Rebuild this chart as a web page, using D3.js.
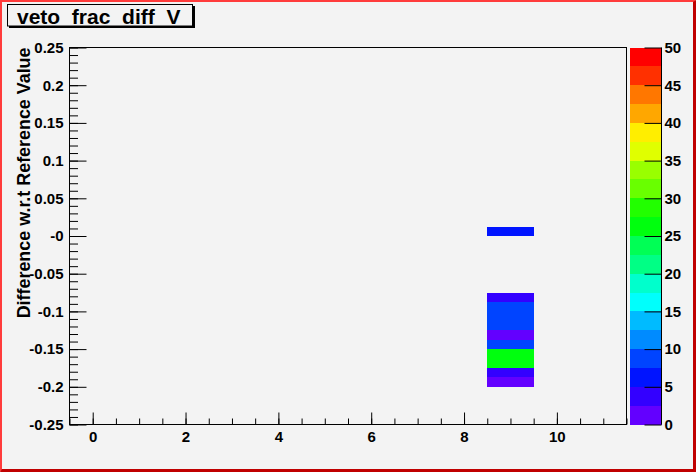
<!DOCTYPE html>
<html><head><meta charset="utf-8">
<script src="https://cdn.jsdelivr.net/npm/d3@7"></script>
<style>
body{margin:0;background:#f3f3f3}
svg{display:block}
text{font-family:"Liberation Sans",Arial,Helvetica,sans-serif;font-weight:bold;fill:#000}
</style>
</head><body><script>
// ---- data ----
const title = "veto_frac_diff_V";
const yTitle = "Difference w.r.t Reference Value";
const xTickValues = [0, 2, 4, 6, 8, 10];
const xTickLabels = ["0", "2", "4", "6", "8", "10"];
const yTickValues = [0.25, 0.2, 0.15, 0.1, 0.05, 0, -0.05, -0.1, -0.15, -0.2, -0.25];
const yTickLabels = ["0.25", "0.2", "0.15", "0.1", "0.05", "-0", "-0.05", "-0.1", "-0.15", "-0.2", "-0.25"];
const zTickValues = [0, 5, 10, 15, 20, 25, 30, 35, 40, 45, 50];
const zTickLabels = ["0", "5", "10", "15", "20", "25", "30", "35", "40", "45", "50"];
// cell centres (x bin, y bin) and contents
const cellX = [9, 9, 9, 9, 9, 9, 9, 9, 9, 9, 9];
const cellY = [0.00625, -0.08125, -0.09375, -0.10625, -0.11875, -0.13125, -0.14375, -0.15625, -0.16875, -0.18125, -0.19375];
const cellZ = [6, 4, 9, 9, 9, 1, 8, 26, 26, 3, 2];
const xDomain = [-0.5, 11.5];
const yDomain = [-0.25, 0.25];
const zDomain = [0, 50];
const xBinWidth = 1;
const yBinWidth = 0.0125;
const nLevels = 20;

// ---- layout ----
const W = 696, H = 472;
const fx0 = 69.5, fx1 = 626.5, fy0 = 47.5, fy1 = 424.5;
const px0 = 629.5, px1 = 661.5;

const svg = d3.select("body").append("svg").attr("width", W).attr("height", H);
svg.append("rect").attr("width", W).attr("height", H).attr("fill", "#f3f3f3");

// canvas border (ROOT highlighted style)
svg.append("polygon").attr("points", `0,0 ${W},0 ${W-2},2 2,2 2,${H-2} 0,${H}`).attr("fill", "#ff3b3b");
svg.append("polygon").attr("points", `${W},0 ${W},${H} 0,${H} 2,${H-3} ${W-3},${H-3} ${W-3},2`).attr("fill", "#c00000");

const x = d3.scaleLinear().domain(xDomain).range([fx0, fx1]);
const y = d3.scaleLinear().domain(yDomain).range([fy1, fy0]);

// palette colours (ROOT pretty palette)
function levelColor(j) {
  const idx = Math.floor((j + 0.99) * 50 / nLevels);
  const hue = 280 - (idx + 1) * 5.6;
  return d3.hsl(hue, 1, 0.5).formatHex();
}
const zLevel = d3.scaleQuantize().domain(zDomain).range(d3.range(nLevels));

// cells
const cells = cellX.map((cx, i) => ({x: cx, y: cellY[i], z: cellZ[i]}));
svg.append("g").selectAll("rect").data(cells).join("rect")
  .attr("x", d => x(d.x - xBinWidth / 2))
  .attr("width", d => x(d.x + xBinWidth / 2) - x(d.x - xBinWidth / 2))
  .attr("y", d => y(d.y + yBinWidth / 2))
  .attr("height", d => y(d.y - yBinWidth / 2) - y(d.y + yBinWidth / 2))
  .attr("fill", d => levelColor(zLevel(d.z)))
  .attr("shape-rendering", "crispEdges");

// frame
svg.append("rect").attr("x", fx0).attr("y", fy0).attr("width", fx1 - fx0).attr("height", fy1 - fy0)
  .attr("fill", "none").attr("stroke", "#000").attr("stroke-width", 1);

// y axis
const yMinor = d3.range(-25, 26).map(v => v / 100);
svg.append("g").attr("transform", `translate(${fx0},0)`)
  .call(d3.axisLeft(y).tickValues(yMinor).tickSize(-8.5).tickSizeOuter(0).tickFormat(""))
  .call(g => g.select(".domain").remove());
svg.append("g").attr("transform", `translate(${fx0},0)`)
  .call(d3.axisLeft(y).tickValues(yTickValues).tickSize(-17).tickSizeOuter(0).tickPadding(6)
    .tickFormat((d, i) => yTickLabels[i]))
  .call(g => g.select(".domain").remove())
  .call(g => g.selectAll("text").attr("font-size", 15).attr("font-family", null).attr("fill", "#000"));

// x axis
const xMinor = d3.range(-1, 24).map(v => v / 2).filter(v => v >= xDomain[0] && v <= xDomain[1]);
svg.append("g").attr("transform", `translate(0,${fy1})`)
  .call(d3.axisBottom(x).tickValues(xMinor).tickSize(-6).tickSizeOuter(0).tickFormat(""))
  .call(g => g.select(".domain").remove());
svg.append("g").attr("transform", `translate(0,${fy1})`)
  .call(d3.axisBottom(x).tickValues(xTickValues).tickSize(-12).tickSizeOuter(0).tickPadding(7)
    .tickFormat((d, i) => xTickLabels[i]))
  .call(g => g.select(".domain").remove())
  .call(g => g.selectAll("text").attr("font-size", 15).attr("font-family", null).attr("fill", "#000"));

// palette
const z = d3.scaleLinear().domain(zDomain).range([fy1, fy0]);
const levelStep = (zDomain[1] - zDomain[0]) / nLevels;
svg.append("g").selectAll("rect").data(d3.range(nLevels)).join("rect")
  .attr("x", px0).attr("width", px1 - px0)
  .attr("y", j => z(zDomain[0] + (j + 1) * levelStep))
  .attr("height", j => z(zDomain[0] + j * levelStep) - z(zDomain[0] + (j + 1) * levelStep))
  .attr("fill", j => levelColor(j))
  .attr("shape-rendering", "crispEdges");
svg.append("g").attr("transform", `translate(${px1},0)`)
  .call(d3.axisRight(z).tickValues(zTickValues).tickSize(-17).tickSizeOuter(0).tickPadding(3)
    .tickFormat((d, i) => zTickLabels[i]))
  .call(g => g.select(".domain").attr("d", `M0,${fy0}V${fy1}`).attr("stroke", "#000"))
  .call(g => g.selectAll("text").attr("font-size", 15).attr("font-family", null).attr("fill", "#000"));

// y title
svg.append("text").attr("transform", `translate(29.5,${fy0}) rotate(-90)`)
  .attr("text-anchor", "end").attr("font-size", 17.9).text(yTitle);

// title box
svg.append("rect").attr("x", 9).attr("y", 6).attr("width", 186).attr("height", 22).attr("fill", "#000");
svg.append("rect").attr("x", 7.5).attr("y", 4.5).attr("width", 185).attr("height", 21.5)
  .attr("fill", "#f3f3f3").attr("stroke", "#000").attr("stroke-width", 1);
svg.append("text").attr("x", 17).attr("y", 24).attr("font-size", 21).text(title);
</script></body></html>
